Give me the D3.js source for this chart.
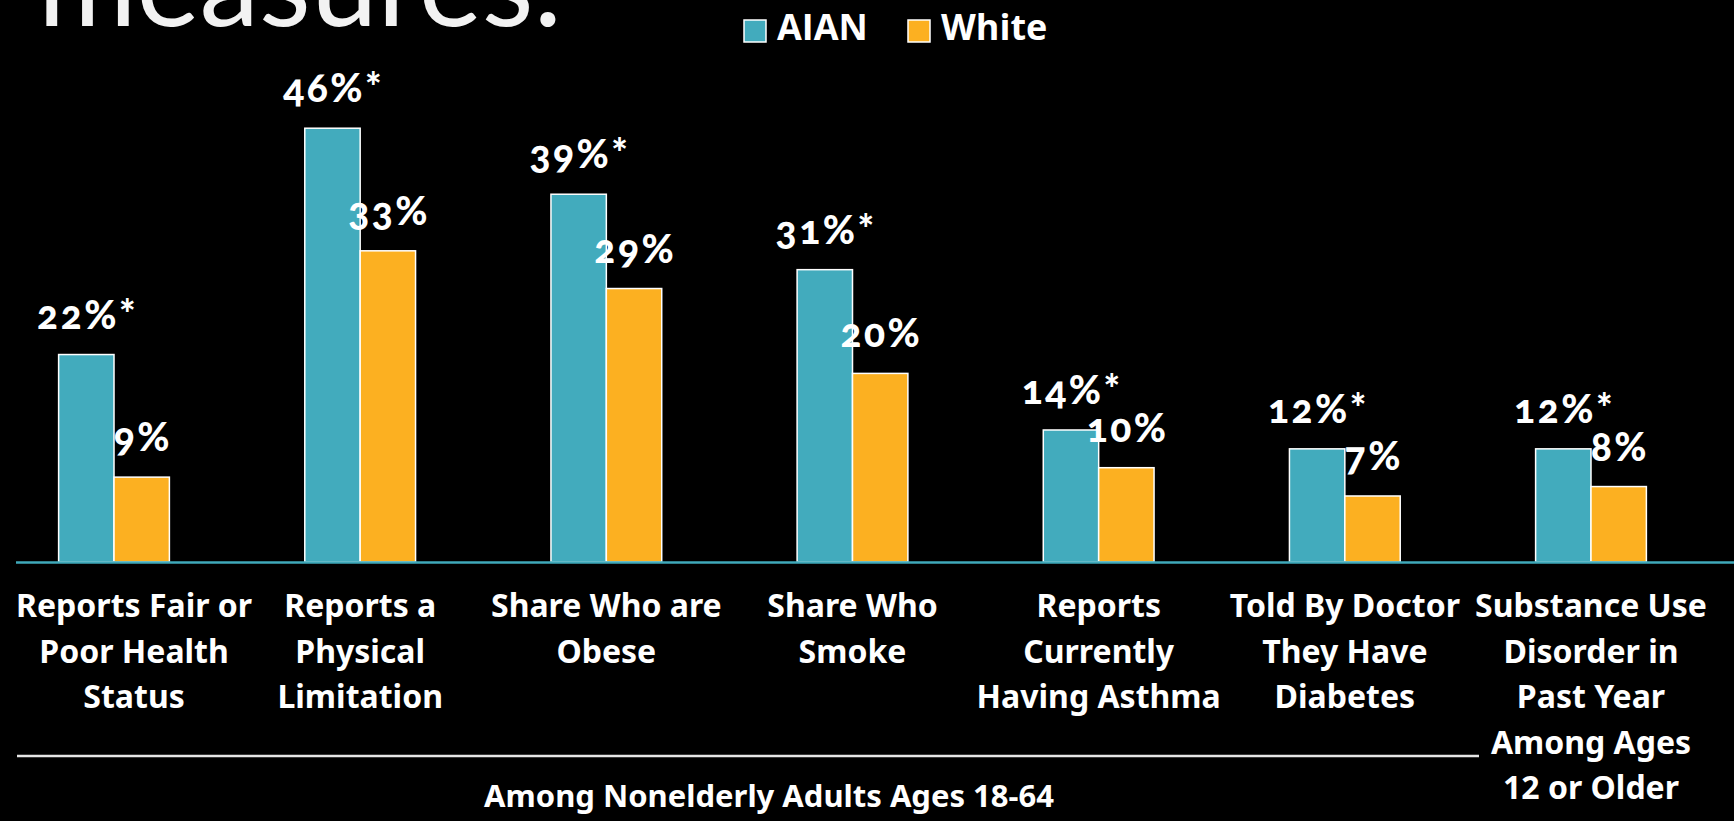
<!DOCTYPE html>
<html>
<head>
<meta charset="utf-8">
<script src="https://cdn.jsdelivr.net/npm/d3@7"></script>
<style>
  html, body { margin: 0; padding: 0; background: #000; }
  svg { display: block; }
</style>
</head>
<body>
<svg id="chart" width="1734" height="821"></svg>
<script>
// Health measures, AIAN vs. White
const categories = [
  ["Reports Fair or", "Poor Health", "Status"],
  ["Reports a", "Physical", "Limitation"],
  ["Share Who are", "Obese"],
  ["Share Who", "Smoke"],
  ["Reports", "Currently", "Having Asthma"],
  ["Told By Doctor", "They Have", "Diabetes"],
  ["Substance Use", "Disorder in", "Past Year", "Among Ages", "12 or Older"]
];
const seriesNames = ["AIAN", "White"];
const aianValues = [22, 46, 39, 31, 14, 12, 12];
const whiteValues = [9, 33, 29, 20, 10, 7, 8];
const aianSignificant = [true, true, true, true, true, true, true];
const titleText = "measures.";
const groupNote = "Among Nonelderly Adults Ages 18-64";

const colors = { AIAN: "#42abbd", White: "#fcb021" };
const W = 1734, H = 821;

const svg = d3.select("#chart");
svg.append("rect").attr("width", W).attr("height", H).attr("fill", "#000");

const rows = categories.map((lines, i) => ({
  key: "c" + i,
  lines,
  values: [
    { series: "AIAN", value: aianValues[i], star: aianSignificant[i] },
    { series: "White", value: whiteValues[i], star: false }
  ]
}));

const x = d3.scaleBand()
  .domain(rows.map(d => d.key))
  .range([2, 1703])
  .paddingInner(0.55)
  .paddingOuter(0.23);

const xs = d3.scaleBand()
  .domain(seriesNames)
  .range([0, x.bandwidth()]);

const y = d3.scaleLinear().domain([0, 50]).range([562, 90.5]);

// slide title (runs off the top edge), sized to span 38..562
const title = svg.append("text")
  .attr("y", 26)
  .attr("font-family", "Lato, 'Open Sans', sans-serif")
  .attr("font-weight", 400)
  .attr("font-size", 100)
  .attr("fill", "#f2f2f2")
  .text(titleText);
const titleSize = 100 * 524 / title.node().getBBox().width;
title.attr("font-size", titleSize);
title.attr("x", 38 - title.node().getBBox().x);

// legend
const legend = svg.append("g").attr("font-family", "'Open Sans', sans-serif")
  .attr("font-weight", 700).attr("font-size", 36).attr("fill", "#fff");
const legendX = { AIAN: 744, White: 908 };
seriesNames.forEach(s => {
  legend.append("rect")
    .attr("x", legendX[s]).attr("y", 20).attr("width", 22).attr("height", 22)
    .attr("fill", colors[s]).attr("stroke", "#fff").attr("stroke-width", 1.5);
  legend.append("text")
    .attr("x", legendX[s] + 33).attr("y", 40)
    .text(s);
});

// bars
const groups = svg.append("g").selectAll("g").data(rows).join("g")
  .attr("transform", d => `translate(${x(d.key)},0)`);

groups.selectAll("rect").data(d => d.values).join("rect")
  .attr("x", d => xs(d.series))
  .attr("y", d => y(d.value))
  .attr("width", xs.bandwidth())
  .attr("height", d => y(0) - y(d.value))
  .attr("fill", d => colors[d.series])
  .attr("stroke", "#fff")
  .attr("stroke-width", 1.5);

// value labels (old-style figures)
const valSpacing = 2.5;
groups.selectAll("text.val").data(d => d.values).join("text")
  .attr("class", "val")
  .attr("x", d => xs(d.series) + xs.bandwidth() / 2 + valSpacing / 2)
  .attr("y", d => y(d.value) - 26)
  .attr("text-anchor", "middle")
  .attr("font-family", "Lato, 'Noto Sans', sans-serif")
  .attr("font-weight", 900)
  .attr("font-size", 39)
  .attr("letter-spacing", valSpacing)
  .style("font-variant-numeric", "oldstyle-nums")
  .style("font-feature-settings", "'onum' 1")
  .attr("fill", "#fff")
  .text(d => d.value + "%" + (d.star ? "*" : ""));

// category axis baseline
svg.append("line")
  .attr("x1", 16).attr("x2", W)
  .attr("y1", y(0) + 0.5).attr("y2", y(0) + 0.5)
  .attr("stroke", "#3fa9ba").attr("stroke-width", 2.5);

// category labels, kept inside the slide edges
const catText = groups.append("text")
  .attr("text-anchor", "middle")
  .attr("font-family", "'Noto Sans', sans-serif")
  .attr("font-weight", 700)
  .attr("font-size", 32)
  .attr("fill", "#fff");
catText.selectAll("tspan").data(d => d.lines).join("tspan")
  .attr("x", x.bandwidth() / 2)
  .attr("y", (d, i) => 617 + i * 45.5)
  .text(d => d);
catText.each(function (d) {
  const b = this.getBBox();
  const left = x(d.key) + b.x, right = left + b.width;
  let shift = 0;
  if (left < 16) shift = 16 - left;
  else if (right > W - 16) shift = (W - 16) - right;
  d3.select(this).attr("transform", `translate(${shift},0)`);
});

// grouping rule and note for the adult measures
svg.append("line")
  .attr("x1", 17).attr("x2", 1479)
  .attr("y1", 756).attr("y2", 756)
  .attr("stroke", "#e6e6e6").attr("stroke-width", 2.5);

svg.append("text")
  .attr("x", 769).attr("y", 807)
  .attr("text-anchor", "middle")
  .attr("font-family", "'Noto Sans', sans-serif")
  .attr("font-weight", 700)
  .attr("font-size", 31)
  .attr("fill", "#fff")
  .text(groupNote);
</script>
</body>
</html>
